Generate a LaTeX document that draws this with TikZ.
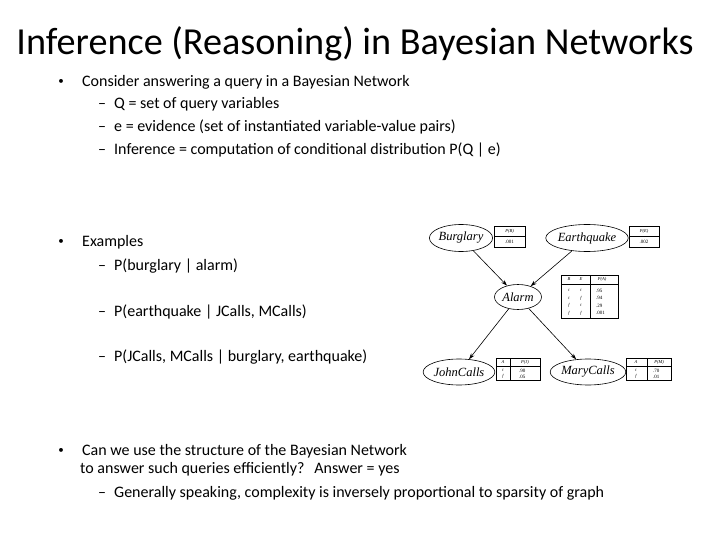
\documentclass[tikz,border=0pt]{standalone}
\usepackage{fontspec}
\setmainfont{Carlito}
\newfontfamily\tms{Liberation Serif}
\usetikzlibrary{shapes.geometric,arrows.meta}
\begin{document}
\begin{tikzpicture}[x=1pt,y=-1pt,
  body/.style={anchor=west,inner sep=0pt,font=\fontsize{16}{18}\selectfont},
  bul/.style={inner sep=0pt,font=\fontsize{11}{12}\selectfont},
  var/.style={ellipse,draw,line width=0.6pt,inner sep=0pt,font=\tms\itshape\fontsize{12.5}{13}\selectfont},
  edge/.style={-{Stealth[length=6pt,width=4pt]},line width=0.6pt},
  tb/.style={draw,line width=1pt},
  tt/.style={font=\tms\itshape\fontsize{4.5}{5}\selectfont,inner sep=0pt},
  tn/.style={font=\tms\fontsize{5}{5}\selectfont,inner sep=0pt}]
\useasboundingbox (0,0) rectangle (720,540);
\node[inner sep=0pt,font=\fontsize{38.2}{42}\selectfont] (title) at (355,44) {Inference (Reasoning) in Bayesian Networks};
\node[bul] (b1) at (61,82) {•};
\node[body] (t1) at (82,82) {Consider answering a query in a Bayesian Network};
\node[body] (t2) at (98,104) {–\hspace{8pt}Q = set of query variables};
\node[body] (t3) at (98,127) {–\hspace{8pt}e = evidence (set of instantiated variable-value pairs)};
\node[body] (t4) at (98,150) {–\hspace{8pt}Inference = computation of conditional distribution P(Q | e)};
\node[bul] (b2) at (61,242) {•};
\node[body] (t5) at (82,242) {Examples};
\node[body] (t6) at (98,266) {–\hspace{8pt}P(burglary | alarm)};
\node[body] (t7) at (98,312) {–\hspace{8pt}P(earthquake | JCalls, MCalls)};
\node[body] (t8) at (98,357) {–\hspace{8pt}P(JCalls, MCalls | burglary, earthquake)};
\node[bul] (b3) at (61,451) {•};
\node[body] (t9) at (82,451) {Can we use the structure of the Bayesian Network};
\node[body] (t10) at (82,469) {\hspace{-2pt}to answer such queries efficiently?\hspace{5pt} Answer = yes};
\node[body] (t11) at (98,493) {–\hspace{8pt}Generally speaking, complexity is inversely proportional to sparsity of graph};
% network
\node[var,minimum width=59,minimum height=27] (B) at (461,238) {Burglary};
\node[var,minimum width=75,minimum height=27] (E) at (587,238) {Earthquake};
\node[var,minimum width=47,minimum height=25] (A) at (518,297) {Alarm};
\node[var,minimum width=65,minimum height=26] (J) at (459,372) {JohnCalls};
\node[var,minimum width=70,minimum height=26] (M) at (588,372) {MaryCalls};
\draw[edge] (B) -- (A);
\draw[edge] (E) -- (A);
\draw[edge] (A) -- (J);
\draw[edge] (A) -- (M);
% P(B)
\draw[tb] (494,227) rectangle (525,247); \draw[line width=1pt] (494,236) -- (525,236);
\node[tt] (pb) at (509.5,231.5) {P(B)}; \node[tn] (pbv) at (509.5,241.5) {.001};
% P(E)
\draw[tb] (629,227) rectangle (659,247); \draw[line width=1pt] (629,236) -- (659,236);
\node[tt] (pe) at (644,231.5) {P(E)}; \node[tn] (pev) at (644,241.5) {.002};
% P(A)
\draw[tb] (561,275) rectangle (618,318); \draw[line width=1pt] (561,284) -- (618,284); \draw[line width=1pt] (590,275) -- (590,318);
\node[tt] (ab) at (569,279.5) {B}; \node[tt] (ae) at (581,279.5) {E}; \node[tt] (apa) at (602,279.5) {P(A)};
\foreach \b/\e/\v [count=\i] in {t/t/.95,t/f/.94,f/t/.29,f/f/.001}{
  \node[tt] (ab\i) at (569,283+7.5*\i) {\b};
  \node[tt] (ae\i) at (581,283+7.5*\i) {\e};
  \node[tn,anchor=west] (av\i) at (596,283+7.5*\i) {\v};}
% P(J)
\draw[tb] (496,358) rectangle (540,380); \draw[line width=1pt] (496,366) -- (540,366); \draw[line width=1pt] (510,358) -- (510,380);
\node[tt] (ja) at (503,362) {A}; \node[tt] (jp) at (525,362) {P(J)};
\node[tt] (j1) at (503,370.5) {t}; \node[tn,anchor=west] (jv1) at (519,370.5) {.90};
\node[tt] (j2) at (503,376.5) {f}; \node[tn,anchor=west] (jv2) at (519,376.5) {.05};
% P(M)
\draw[tb] (626,358) rectangle (671,380); \draw[line width=1pt] (626,366) -- (671,366); \draw[line width=1pt] (647,358) -- (647,380);
\node[tt] (ma) at (636,362) {A}; \node[tt] (mp) at (659,362) {P(M)};
\node[tt] (m1) at (636,370.5) {t}; \node[tn,anchor=west] (mv1) at (653,370.5) {.70};
\node[tt] (m2) at (636,376.5) {f}; \node[tn,anchor=west] (mv2) at (653,376.5) {.01};
\end{tikzpicture}
\end{document}
